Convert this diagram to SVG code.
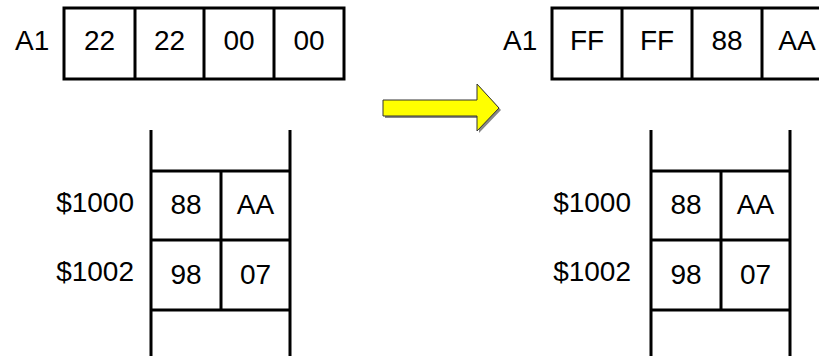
<svg xmlns="http://www.w3.org/2000/svg" width="819" height="358" viewBox="0 0 819 358">
  <style>
    .ln { stroke: #000; stroke-width: 3; fill: none; }
    .box { stroke: #000; stroke-width: 3; fill: #fff; }
    .t { font-family: "Liberation Sans", Arial, sans-serif; font-size: 28px; fill: #000; }
    .c { text-anchor: middle; }
    .r { text-anchor: end; }
  </style>

  <!-- Register A1 before -->
  <g id="reg-before">
    <text class="t" x="15" y="50">A1</text>
    <rect class="box" x="64" y="8" width="280" height="71"/>
    <path class="ln" d="M135,8V79M204,8V79M274,8V79"/>
    <text class="t c" x="99.5" y="50">22</text>
    <text class="t c" x="169.5" y="50">22</text>
    <text class="t c" x="239" y="50">00</text>
    <text class="t c" x="309" y="50">00</text>
  </g>

  <!-- Register A1 after -->
  <g id="reg-after">
    <text class="t" x="503" y="50">A1</text>
    <rect class="box" x="552" y="8" width="280" height="71"/>
    <path class="ln" d="M622,8V79M692,8V79M762,8V79"/>
    <text class="t c" x="587" y="50">FF</text>
    <text class="t c" x="657" y="50">FF</text>
    <text class="t c" x="727" y="50">88</text>
    <text class="t c" x="797" y="50">AA</text>
  </g>

  <!-- Transition arrow -->
  <g id="connectors">
    <polygon points="385,102 479,102 479,86 501,110 479,133 479,118 385,118" fill="#888"/>
    <polygon points="383,100 477,100 477,84 499,108 477,131 477,116 383,116" fill="#ffff00" stroke="#333" stroke-width="1"/>
  </g>

  <!-- Memory before -->
  <g id="mem-before">
    <path class="ln" d="M151,130V356M290,130V356M151,171H290M151,240H290M151,310H290M221,171V310"/>
    <text class="t r" x="134" y="212">$1000</text>
    <text class="t r" x="134" y="281">$1002</text>
    <text class="t c" x="186" y="214">88</text>
    <text class="t c" x="255.5" y="214">AA</text>
    <text class="t c" x="186" y="284">98</text>
    <text class="t c" x="255.5" y="284">07</text>
  </g>

  <!-- Memory after -->
  <g id="mem-after">
    <path class="ln" d="M651,130V356M790,130V356M651,171H790M651,240H790M651,310H790M721,171V310"/>
    <text class="t r" x="631" y="212">$1000</text>
    <text class="t r" x="631" y="281">$1002</text>
    <text class="t c" x="686" y="214">88</text>
    <text class="t c" x="755.5" y="214">AA</text>
    <text class="t c" x="686" y="284">98</text>
    <text class="t c" x="755.5" y="284">07</text>
  </g>
</svg>
